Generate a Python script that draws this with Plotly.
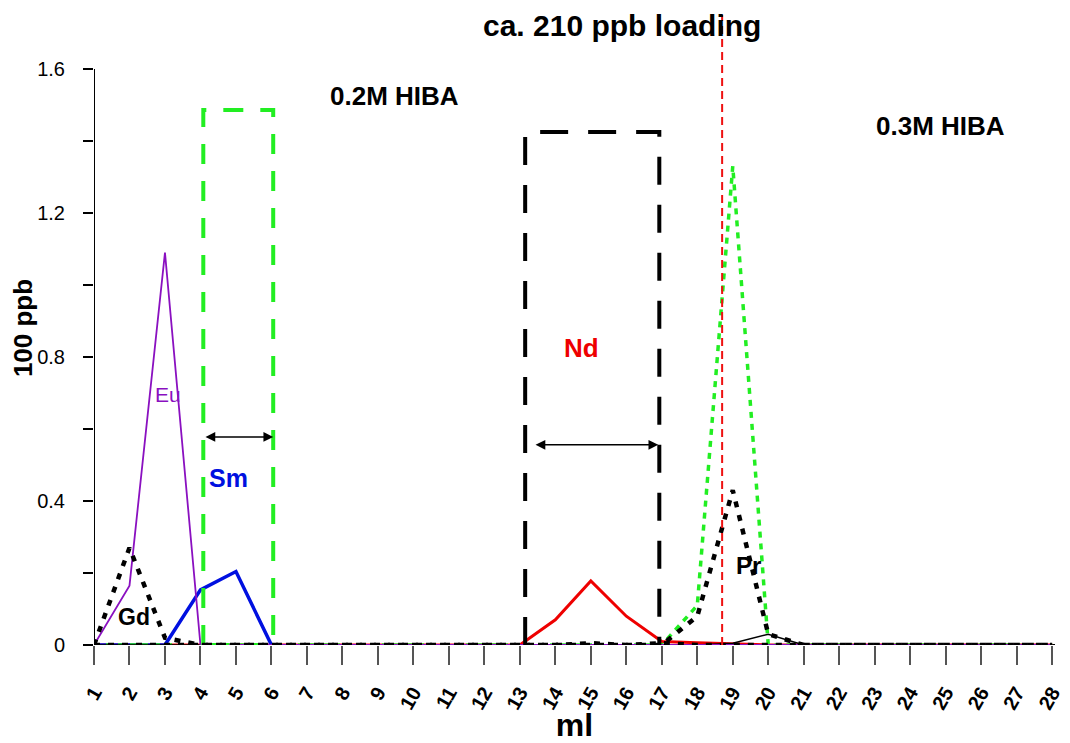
import plotly.graph_objects as go

fractions = list(range(1, 29))
x_ticks = [str(i) for i in fractions]

gd = [0, 0.27, 0.02] + [0] * 11 + [0.005, 0, 0.005] + [0] * 11
pr = [0] * 16 + [0, 0.08, 0.43, 0.03] + [0] * 8
eu = [0, 0.165, 1.09, 0] + [0] * 24
sm = [0, 0, 0, 0.153, 0.204, 0]
nd = [0] * 12 + [0, 0.07, 0.178, 0.08, 0.01, 0.006, 0.003] + [0] * 9
green_dot = [0] * 16 + [0, 0.11, 1.33, 0.0] + [0] * 8
black_thin = [0] * 17 + [0, 0.005, 0.03, 0] + [0] * 7

sm_box_x = [4.08, 4.08, 6.05, 6.05, 4.08]
sm_box_y = [0, 1.486, 1.486, 0, 0]
nd_box_x = [13.15, 13.15, 16.93, 16.93]
nd_box_y = [0, 1.425, 1.425, 0]
loading_x = [18.70, 18.70]
loading_y = [0, 1.75]

FONT = "Liberation Sans, Arial"

fig = go.Figure()

fig.add_trace(go.Scatter(x=fractions, y=nd, mode="lines",
                         line=dict(color="#ee0000", width=3)))
fig.add_trace(go.Scatter(x=fractions[:6], y=sm, mode="lines",
                         line=dict(color="#0010e0", width=3.5)))
fig.add_trace(go.Scatter(x=fractions, y=green_dot, mode="lines",
                         line=dict(color="#22ee22", width=3.5, dash="6px,6px")))
fig.add_trace(go.Scatter(x=fractions, y=black_thin, mode="lines",
                         line=dict(color="black", width=1.5)))
fig.add_trace(go.Scatter(x=fractions, y=eu, mode="lines",
                         line=dict(color="#8a10c0", width=1.8)))
fig.add_trace(go.Scatter(x=sm_box_x, y=sm_box_y, mode="lines",
                         line=dict(color="#22ee22", width=4, dash="20px,17px")))
fig.add_trace(go.Scatter(x=nd_box_x, y=nd_box_y, mode="lines",
                         line=dict(color="black", width=4, dash="28px,20px")))
fig.add_trace(go.Scatter(x=fractions, y=gd, mode="lines",
                         line=dict(color="black", width=4.5, dash="6px,8px")))
fig.add_trace(go.Scatter(x=fractions, y=pr, mode="lines",
                         line=dict(color="black", width=4.5, dash="6px,8px")))
fig.add_trace(go.Scatter(x=loading_x, y=loading_y, mode="lines",
                         line=dict(color="#ee1111", width=2, dash="8px,5px")))

# y axis line drawn only up to 1.6
fig.add_shape(type="line", xref="x", yref="y", x0=1, x1=1, y0=0, y1=1.6,
              line=dict(color="black", width=2))
fig.add_shape(type="line", xref="paper", yref="y", x0=0, x1=1, y0=0, y1=0,
              line=dict(color="black", width=2), layer="below")

def arrow(x0, x1, y):
    fig.add_annotation(x=x1, y=y, ax=x0, ay=y, xref="x", yref="y",
                       axref="x", ayref="y", text="", showarrow=True,
                       arrowhead=2, arrowside="end+start", arrowsize=1.3,
                       arrowwidth=1.5, arrowcolor="black")

arrow(4.1, 6.05, 0.578)
arrow(13.4, 16.9, 0.556)

labels = [
    ("0.2M HIBA", 9.48, 1.525, "black", 26, True),
    ("0.3M HIBA", 24.84, 1.442, "black", 26, True),
    ("Nd", 14.75, 0.825, "#ee0000", 26, True),
    ("Sm", 4.80, 0.464, "#0010e0", 25, True),
    ("Eu", 3.09, 0.697, "#8a10c0", 21, False),
    ("Gd", 2.13, 0.078, "black", 23, True),
    ("Pr", 19.45, 0.222, "black", 24, True),
    ("ca. 210 ppb loading", 15.88, 1.722, "black", 30, True),
]
for t, x, y, c, s, b in labels:
    fig.add_annotation(x=x, y=y, xref="x", yref="y", showarrow=False,
                       text=f"<b>{t}</b>" if b else t, borderpad=0,
                       font=dict(family=FONT, size=s, color=c))

# the page body adds an 8px offset, so the figure is 8px smaller on each axis
fig.update_layout(
    width=1062, height=735,
    margin=dict(l=86, r=15, t=3, b=98),
    plot_bgcolor="white", paper_bgcolor="white",
    showlegend=False,
    font=dict(family=FONT, color="black"),
    xaxis=dict(range=[1, 28.08], tickmode="array", tickvals=fractions,
               ticktext=[f"<b>{t}</b>" for t in x_ticks], automargin=False,
               tickangle=-60, ticks="outside", ticklen=19, tickcolor="#555",
               tickwidth=1.5, showline=False, showgrid=False, zeroline=False,
               ticklabelstandoff=8,
               tickfont=dict(family=FONT, size=20, color="black"),
               title=dict(text="<b>ml</b>", font=dict(size=32), standoff=0)),
    yaxis=dict(range=[0, 1.761], tickmode="array", tickvals=[0, 0.4, 0.8, 1.2, 1.6],
               ticktext=["0", "0.4", "0.8", "1.2", "1.6"], ticks="outside", ticklen=10,
               tickwidth=2, tickcolor="black", showline=False, showgrid=False,
               zeroline=False, automargin=False, ticklabelstandoff=14,
               minor=dict(tickvals=[0.2, 0.6, 1.0, 1.4], ticks="outside", ticklen=10,
                          tickwidth=2, tickcolor="black"),
               tickfont=dict(family=FONT, size=20, color="black"),
               title=dict(text="<b>100 ppb</b>", font=dict(size=26), standoff=4)),
)

fig.write_html("out.html")
